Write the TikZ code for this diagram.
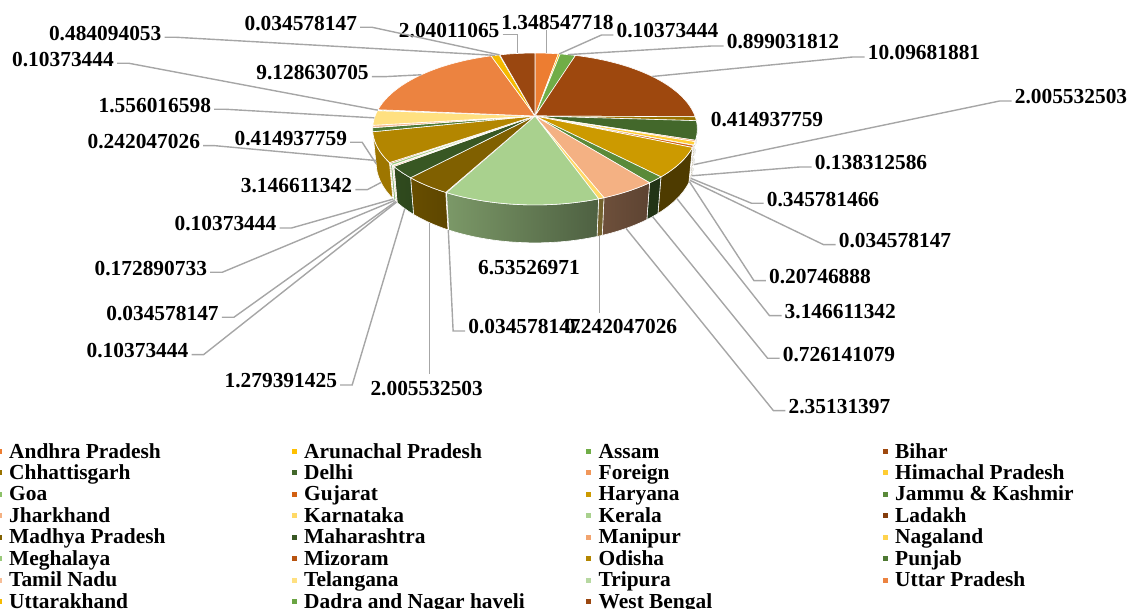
\documentclass[tikz,border=0pt]{standalone}
\usepackage{fontspec}
\setmainfont{Liberation Serif}
\usetikzlibrary{calc}
\definecolor{c1}{HTML}{ED7D31}
\definecolor{c2}{HTML}{FFC000}
\definecolor{c3}{HTML}{70AD47}
\definecolor{c4}{HTML}{9E480E}
\definecolor{c5}{HTML}{997300}
\definecolor{c6}{HTML}{43682B}
\definecolor{c7}{HTML}{F1975A}
\definecolor{c8}{HTML}{FFCD33}
\definecolor{c9}{HTML}{8CC168}
\definecolor{c10}{HTML}{D26012}
\definecolor{c11}{HTML}{CC9A00}
\definecolor{c12}{HTML}{5A8A39}
\definecolor{c13}{HTML}{F4B183}
\definecolor{c14}{HTML}{FFD966}
\definecolor{c15}{HTML}{A9D18E}
\definecolor{c16}{HTML}{843C0C}
\definecolor{c17}{HTML}{806000}
\definecolor{c18}{HTML}{385723}
\definecolor{c19}{HTML}{F2A46F}
\definecolor{c20}{HTML}{FFD34D}
\definecolor{c21}{HTML}{9AC97B}
\definecolor{c22}{HTML}{B85410}
\definecolor{c23}{HTML}{B38600}
\definecolor{c24}{HTML}{4E7932}
\definecolor{c25}{HTML}{F6BE98}
\definecolor{c26}{HTML}{FFE080}
\definecolor{c27}{HTML}{B7D8A1}
\definecolor{c28}{HTML}{EC8340}
\definecolor{c29}{HTML}{F5BA00}
\definecolor{c30}{HTML}{6AA443}
\definecolor{c31}{HTML}{9A4710}
\definecolor{leadgray}{HTML}{A6A6A6}
\pgfmathdeclarefunction{pxt}{1}{\pgfmathparse{535+830*cos(#1)/(5.19+0.887*sin(#1))}}
\pgfmathdeclarefunction{pyt}{1}{\pgfmathparse{116-382.63*sin(#1)/(5.19+0.887*sin(#1))}}
\pgfmathdeclarefunction{pxb}{1}{\pgfmathparse{535+830*cos(#1)/(5.3011+0.887*sin(#1))}}
\pgfmathdeclarefunction{pyb}{1}{\pgfmathparse{116-(382.63*sin(#1)-177.45)/(5.3011+0.887*sin(#1))}}
\def\pielist{1.348547718/c1/Andhra Pradesh, 0.10373444/c2/Arunachal Pradesh, 0.899031812/c3/Assam, 10.09681881/c4/Bihar, 0.414937759/c5/Chhattisgarh, 2.005532503/c6/Delhi, 0.138312586/c7/Foreign, 0.345781466/c8/Himachal Pradesh, 0.034578147/c9/Goa, 0.20746888/c10/Gujarat, 3.146611342/c11/Haryana, 0.726141079/c12/Jammu \& Kashmir, 2.35131397/c13/Jharkhand, 0.242047026/c14/Karnataka, 6.53526971/c15/Kerala, 0.034578147/c16/Ladakh, 2.005532503/c17/Madhya Pradesh, 1.279391425/c18/Maharashtra, 0.10373444/c19/Manipur, 0.034578147/c20/Nagaland, 0.172890733/c21/Meghalaya, 0.10373444/c22/Mizoram, 3.146611342/c23/Odisha, 0.414937759/c24/Punjab, 0.242047026/c25/Tamil Nadu, 1.556016598/c26/Telangana, 0.10373444/c27/Tripura, 9.128630705/c28/Uttar Pradesh, 0.484094053/c29/Uttarakhand, 0.034578147/c30/Dadra and Nagar haveli, 2.04011065/c31/West Bengal}
\begin{document}
\begin{tikzpicture}[x=1pt,y=-1pt,
  lbl/.style={font=\fontsize{21.4}{21.4}\selectfont\bfseries, inner sep=0pt},
  ldr/.style={draw=leadgray, line width=1.4pt},
  lgd/.style={font=\fontsize{21.4}{21.4}\selectfont\bfseries, inner sep=0pt, anchor=base west},
  mk/.style={rectangle, inner sep=0pt, minimum size=5pt},
  face/.style={draw=white, line width=0.6pt, line join=round}]
\useasboundingbox (0,0) rectangle (1130,609);
% angles
\gdef\cum{0}
\foreach \v/\c/\nm [count=\i] in \pielist {
  \pgfmathsetmacro\aS{90-\cum*7.275471}
  \pgfmathsetmacro\nc{\cum+\v}
  \xdef\cum{\nc}
  \pgfmathsetmacro\aE{90-\cum*7.275471}
  \expandafter\xdef\csname aS\i\endcsname{\aS}
  \expandafter\xdef\csname aE\i\endcsname{\aE}
}
% side faces
\foreach \v/\c/\nm [count=\i] in \pielist {
  \pgfmathsetmacro\lo{max(\csname aE\i\endcsname,-167.45)}
  \pgfmathsetmacro\hi{min(\csname aS\i\endcsname,-12.55)}
  \ifdim\lo pt<\hi pt
    \pgfmathtruncatemacro\ns{abs(\hi-\lo)/2+3}
    \pgfmathtruncatemacro\bL{100*(0.38+0.5*min(1,max(0,(-55-\lo)/90)))}
    \pgfmathtruncatemacro\bR{100*(0.38+0.5*min(1,max(0,(-55-\hi)/90)))}
    \path[face, left color=\c!\bL!black, right color=\c!\bR!black]
      plot[domain=\lo:\hi, samples=\ns, variable=\t] ({pxt(\t)},{pyt(\t)})
      -- plot[domain=0:1, samples=\ns, variable=\t] ({pxb(\hi-(\hi-\lo)*\t)},{pyb(\hi-(\hi-\lo)*\t)})
      -- cycle;
  \fi
}
% top faces and leader anchor points
\foreach \v/\c/\nm [count=\i] in \pielist {
  \edef\aS{\csname aS\i\endcsname}\edef\aE{\csname aE\i\endcsname}
  \pgfmathtruncatemacro\ns{abs(\aS-\aE)/2+3}
  \path[face, fill=\c] (535,116) -- plot[domain=\aE:\aS, samples=\ns, variable=\t] ({pxt(\t)},{pyt(\t)}) -- cycle;
  \pgfmathsetmacro\am{(\aS+\aE)/2}
  \pgfmathsetmacro\zz{sin(\am)<-0.1 ? 1 : 0}
  \pgfmathsetmacro\dep{5.19+0.887*sin(\am)+\zz*0.1111}
  \pgfmathsetmacro\px{535+830*cos(\am)/\dep}
  \pgfmathsetmacro\py{116-(382.63*sin(\am)-\zz*177.45)/\dep}
  \coordinate (p\i) at (\px,\py);
}
% value labels
\node[lbl] (l1) at (557.5,23) {1.348547718};
\node[lbl] (l2) at (667.5,31) {0.10373444};
\node[lbl] (l3) at (783,42) {0.899031812};
\node[lbl] (l4) at (924,53) {10.09681881};
\node[lbl] (l5) at (767,120) {0.414937759};
\node[lbl] (l6) at (1071,97) {2.005532503};
\node[lbl] (l7) at (871,163) {0.138312586};
\node[lbl] (l8) at (823,199.3) {0.345781466};
\node[lbl] (l9) at (895,240.7) {0.034578147};
\node[lbl] (l10) at (820,276.7) {0.20746888};
\node[lbl] (l11) at (840.3,311.7) {3.146611342};
\node[lbl] (l12) at (839,354.3) {0.726141079};
\node[lbl] (l13) at (839.5,406.7) {2.35131397};
\node[lbl] (l15) at (529,267.3) {6.53526971};
\node[lbl] (l16) at (524.5,327) {0.034578147};
\node[lbl] (l14) at (621,327) {0.242047026};
\node[lbl] (l17) at (426.7,388.3) {2.005532503};
\node[lbl] (l18) at (280.8,381) {1.279391425};
\node[lbl] (l19) at (137.5,350.7) {0.10373444};
\node[lbl] (l20) at (162.5,313.3) {0.034578147};
\node[lbl] (l21) at (150.8,268.3) {0.172890733};
\node[lbl] (l22) at (225.5,224) {0.10373444};
\node[lbl] (l23) at (296.5,185.7) {3.146611342};
\node[lbl] (l24) at (290.8,138.3) {0.414937759};
\node[lbl] (l25) at (143.8,141.7) {0.242047026};
\node[lbl] (l26) at (154.8,105.3) {1.556016598};
\node[lbl] (l27) at (63,59.3) {0.10373444};
\node[lbl] (l28) at (312.5,72.7) {9.128630705};
\node[lbl] (l29) at (105.2,33.3) {0.484094053};
\node[lbl] (l30) at (300.8,23.3) {0.034578147};
\node[lbl] (l31) at (449.2,30.7) {2.04011065};
% leader lines
\draw[ldr] (p1) -- (p1 |- l1.south);
\foreach \k in {2,3,4,6,7,8,9,10,11,12,13,16}
  {\draw[ldr] (p\k) -- ([xshift=-15pt,yshift=-4pt]l\k.west) -- ([xshift=-3pt,yshift=-4pt]l\k.west);}
\foreach \k in {18,...,30}
  {\draw[ldr] (p\k) -- ([xshift=15pt,yshift=-4pt]l\k.east) -- ([xshift=3pt,yshift=-4pt]l\k.east);}
\draw[ldr] (p14) -- ($(p14 |- l14.north)+(0,-7)$);
\draw[ldr] (p17) -- ($(p17 |- l17.north)+(0,-7)$);
\draw[ldr] ([xshift=3pt,yshift=-4pt]l31.east) -| (p31);
% legend
\foreach \v/\c/\nm [count=\i] in \pielist {
  \pgfmathtruncatemacro\row{(\i-1)/4}
  \pgfmathtruncatemacro\col{mod(\i-1,4)}
  \pgfmathsetmacro\xt{{9,304,598.5,895}[\col]}
  \pgfmathsetmacro\yb{458+21.43*\row}
  \node[lgd] (lg\i) at (\xt,\yb) {\nm};
  \node[mk, fill=\c] (mk\i) at (\xt-10,\yb-6.5) {};
}
\end{tikzpicture}
\end{document}
